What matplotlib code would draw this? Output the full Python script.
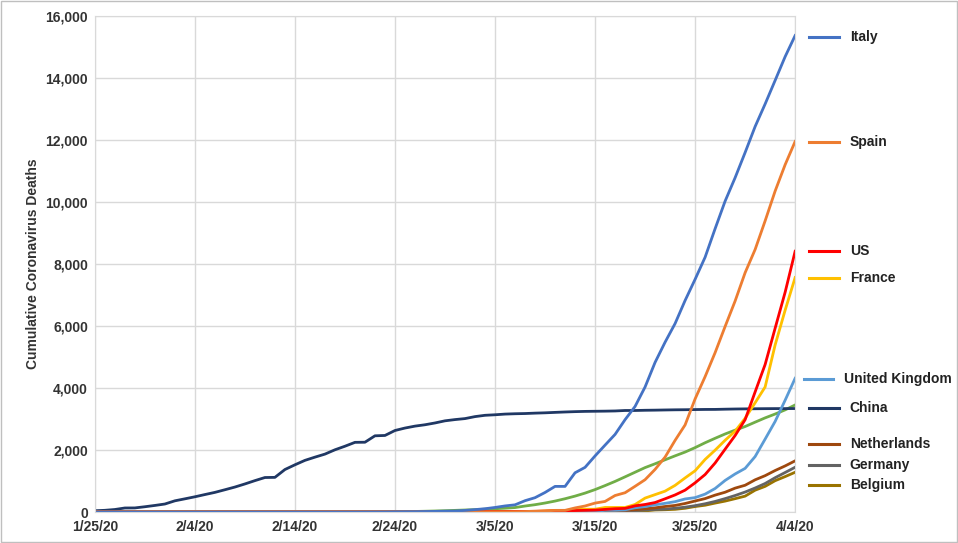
import numpy as np
import pandas as pd
import matplotlib
matplotlib.use('Agg')
import matplotlib.pyplot as plt
import matplotlib.dates as mdates

plt.rcParams['font.family'] = ['Liberation Sans', 'DejaVu Sans']

dates = pd.date_range('2020-01-25', '2020-04-04', freq='D')

china = [42, 56, 82, 131, 133, 171, 213, 259, 362, 426, 492, 564, 634, 719, 806, 906,
         1013, 1113, 1118, 1371, 1523, 1666, 1770, 1868, 2007, 2122, 2247, 2251, 2458,
         2469, 2629, 2708, 2770, 2814, 2872, 2941, 2981, 3013, 3077, 3119, 3136, 3158,
         3169, 3176, 3189, 3199, 3213, 3226, 3237, 3245, 3249, 3253, 3259, 3274, 3274,
         3281, 3285, 3291, 3296, 3299, 3304, 3308, 3309, 3316, 3322, 3326, 3330, 3333,
         3335, 3335, 3337]
italy = [0] * 27 + [1, 2, 3, 7, 10, 12, 17, 21, 29,
                    34, 52, 79, 107, 148, 197, 233, 366, 463, 631,
                    827, 827, 1266, 1441, 1809, 2158, 2503, 2978, 3405, 4032,
                    4825, 5476, 6077, 6820, 7503, 8215, 9134, 10023, 10779, 11591,
                    12428, 13155, 13915, 14681, 15362]
spain = [0] * 38 + [1, 2, 3, 5, 10, 17, 28, 35,
                    54, 55, 133, 195, 289, 342, 533, 623, 830, 1043,
                    1375, 1772, 2311, 2808, 3647, 4365, 5138, 5982, 6803, 7716,
                    8464, 9387, 10348, 11198, 11947]
us = [0] * 35 + [1, 1, 6, 7, 11, 12, 14, 17, 21, 22, 28,
                 36, 40, 47, 54, 63, 85, 108, 118, 200, 244,
                 307, 427, 552, 706, 942, 1209, 1581, 2026, 2467, 2978,
                 3873, 4757, 5926, 7087, 8407]
france = [0] * 37 + [3, 4, 4, 6, 9, 11, 19, 19, 33,
                     48, 48, 79, 91, 91, 148, 148, 148, 243, 450,
                     562, 674, 860, 1100, 1331, 1696, 1995, 2314, 2606, 3024,
                     3523, 4032, 5387, 6507, 7560]
uk = [0] * 40 + [1, 2, 2, 3, 4, 6,
                 8, 8, 8, 21, 21, 56, 56, 72, 138, 177,
                 233, 281, 335, 422, 465, 578, 759, 1019, 1228, 1408,
                 1789, 2352, 2921, 3605, 4313]
netherlands = [0] * 41 + [1, 1, 3, 3, 4,
                          5, 5, 10, 12, 20, 24, 43, 58, 76, 106,
                          136, 179, 213, 276, 356, 434, 546, 639, 771, 864,
                          1039, 1173, 1339, 1487, 1651]
germany = [0] * 44 + [2, 2,
                      3, 3, 7, 9, 11, 17, 24, 28, 44, 67,
                      84, 94, 123, 157, 206, 267, 342, 433, 533, 645,
                      775, 920, 1107, 1275, 1444]
belgium = [0] * 46 + [3, 3, 3, 4, 4, 5, 10, 14, 21, 37,
                      67, 75, 88, 122, 178, 220, 289, 353, 431, 513,
                      705, 828, 1011, 1143, 1283]
iran = [0] * 25 + [2, 2, 4, 5, 8, 12, 16, 19, 26, 34, 43,
                   54, 66, 77, 92, 107, 124, 145, 194, 237, 291,
                   354, 429, 514, 611, 724, 853, 988, 1135, 1284, 1433,
                   1556, 1685, 1812, 1934, 2077, 2234, 2378, 2517, 2640, 2757,
                   2898, 3036, 3160, 3294, 3452]

# (label, values, colour, label y position)
series = [
    ('Italy', italy, '#4472C4', 15320),
    ('Spain', spain, '#ED7D31', 11940),
    ('US', us, '#FF0000', 8420),
    ('France', france, '#FFC000', 7550),
    ('United Kingdom', uk, '#5B9BD5', 4290),
    ('China', china, '#203864', 3355),
    ('Netherlands', netherlands, '#9E480E', 2190),
    ('Germany', germany, '#636363', 1510),
    ('Belgium', belgium, '#997300', 870),
]

fig = plt.figure(figsize=(9.58, 5.43), dpi=100)
ax = fig.add_axes([0.099, 0.057, 0.731, 0.914])

ax.plot(dates, iran, color='#70AD47', lw=2)
for name, vals, col, ly in series[::-1]:
    ax.plot(dates, vals, color=col, lw=2)

x0 = mdates.date2num(dates[0])
x1 = mdates.date2num(dates[-1])
span = x1 - x0
for name, vals, col, ly in series:
    lx = 0.012 if name == 'United Kingdom' else 0.02
    ax.plot([x1 + span * lx, x1 + span * (lx + 0.042)], [ly, ly], color=col,
            lw=2.2, clip_on=False)
    ax.text(x1 + span * (lx + 0.058), ly, name, va='center', ha='left',
            fontsize=10, fontweight='bold', color='#222222')

ax.set_xlim(x0, x1)
ax.set_ylim(0, 16000)
ticks = pd.date_range('2020-01-25', '2020-04-04', freq='10D')
ax.set_xticks(ticks)
ax.set_xticklabels([f'{d.month}/{d.day}/20' for d in ticks], fontsize=10,
                   fontweight='bold', color='#333333')
ax.set_yticks(np.arange(0, 16001, 2000))
ax.set_yticklabels([f'{v:,}' for v in range(0, 16001, 2000)], fontsize=10,
                   fontweight='bold', color='#333333')
ax.set_ylabel('Cumulative Coronavirus Deaths', fontsize=10, fontweight='bold',
              color='#333333')
ax.grid(True, color='#D9D9D9', lw=1)
ax.tick_params(axis='x', length=0, pad=6)
ax.tick_params(axis='y', length=0, pad=5)
for s in ax.spines.values():
    s.set_color('#D9D9D9')

fig.patches.append(plt.Rectangle((0.001, 0.001), 0.998, 0.998, transform=fig.transFigure,
                                 fill=False, edgecolor='#BFBFBF', lw=1))
fig.savefig('out.png')
